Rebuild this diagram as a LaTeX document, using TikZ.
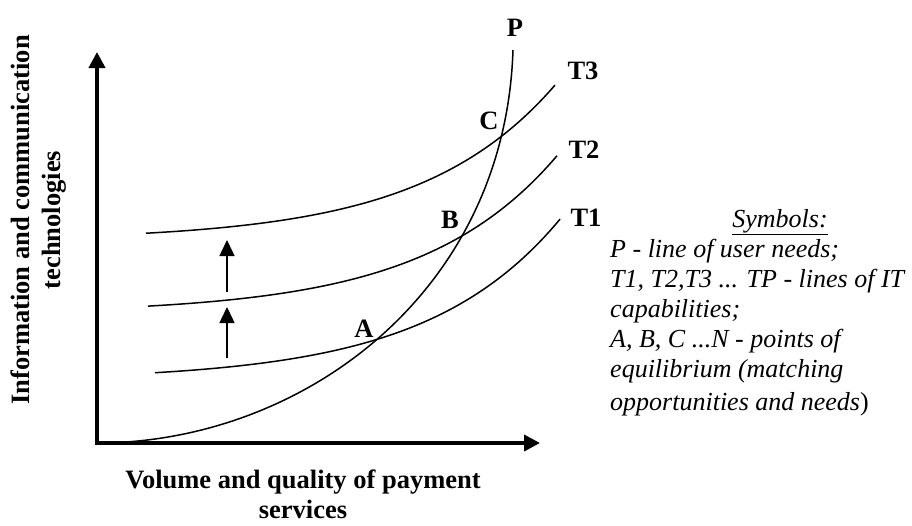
\documentclass[tikz,border=0pt]{standalone}
\usepackage{fontspec}
\setmainfont{Liberation Serif}
\usetikzlibrary{arrows.meta}
\begin{document}
\begin{tikzpicture}[x=1pt,y=-1pt,
  axis/.style={line width=3.8pt, line join=miter,
    {Triangle[width=16pt,length=16pt]}-{Triangle[width=16pt,length=16pt]}},
  curve/.style={line width=1.5pt},
  shiftarrow/.style={line width=1.5pt, -{Triangle[width=15pt,length=16pt]}},
  lbl/.style={font=\fontsize{26.5}{31}\selectfont\bfseries, inner sep=0pt},
  axlbl/.style={font=\fontsize{26.5}{31}\selectfont\bfseries, inner sep=0pt, align=center},
  symtext/.style={font=\fontsize{26}{30}\selectfont\itshape, inner sep=0pt}
]
\useasboundingbox (0,0) rectangle (912,525);
% axes
\coordinate (O) at (97,443);
\coordinate (Ytop) at (97,52);
\coordinate (Xend) at (540,443);
% curves
\draw[curve] plot[domain=155:560, samples=80] (\x, {373 - 7.57*(exp((\x-150)/134)-1)});
\draw[curve] plot[domain=148:557, samples=80] (\x, {306 - 7.57*(exp((\x-150)/134)-1)});
\draw[curve] plot[domain=146:555, samples=80] (\x, {233 - 7.57*(exp((\x-150)/134)-1)});
\coordinate (Ptop) at (513,50);
\draw[curve] (O) .. controls (300,443) and (505,295) .. (Ptop);
\draw[axis] (Ytop) -- (O) -- (Xend);
% shift arrows
\coordinate (a1s) at (227,358);
\coordinate (a1e) at (227,307);
\coordinate (a2s) at (227,292);
\coordinate (a2e) at (227,240);
\draw[shiftarrow] (a1s) -- (a1e);
\draw[shiftarrow] (a2s) -- (a2e);
% labels
\node[lbl] (lP) at (515,28) {P};
\node[lbl] (lT3) at (583,71) {T3};
\node[lbl] (lT2) at (584,150) {T2};
\node[lbl] (lT1) at (586,218) {T1};
\node[lbl] (lC) at (489,121) {C};
\node[lbl] (lB) at (450,220) {B};
\node[lbl] (lA) at (364,329) {A};
% axis labels
\node[axlbl, rotate=90] (ylab) at (39,220) {Information and communication\\technologies};
\node[axlbl, anchor=north] (xlab) at (303,470) {Volume and quality of payment\\[-1pt]services};
% legend
\node[symtext, anchor=base] (symtitle) at (780,227) {\underline{Symbols:}};
\node[symtext, anchor=north west, align=left] (legend) at (610,239) {P - line of user needs;\\
T1, T2,T3 ... TP - lines of IT\\
capabilities;\\
A, B, C ...N - points of\\
equilibrium (matching\\[3pt]
opportunities and needs{\upshape)}};
\end{tikzpicture}
\end{document}
